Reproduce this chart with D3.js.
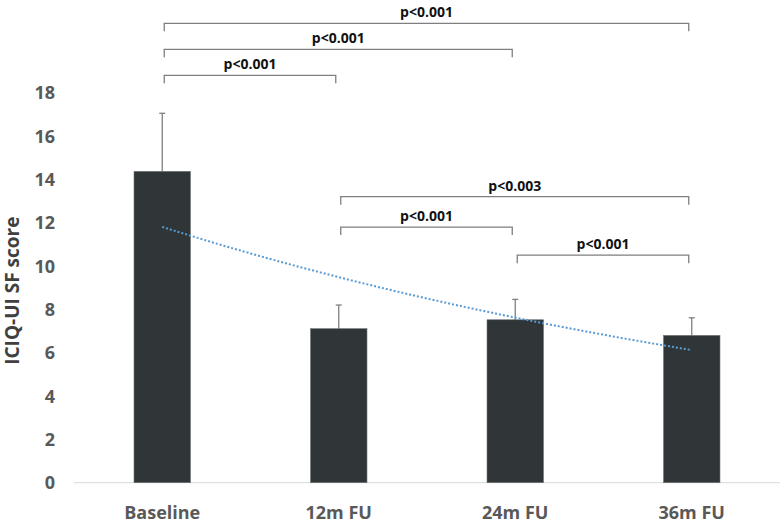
<!DOCTYPE html>
<html>
<head>
<meta charset="utf-8">
<script src="https://cdn.jsdelivr.net/npm/d3@7"></script>
<style>
  body { margin: 0; background: #fff; }
  svg text { font-family: "Open Sans", "Noto Sans", sans-serif; font-weight: bold; }
</style>
</head>
<body>
<svg class="score-chart" width="780" height="525"></svg>
<script>
const categories = ['Baseline', '12m FU', '24m FU', '36m FU']
const means = [14.37, 7.11, 7.52, 6.80]
const errTop = [17.05, 8.20, 8.46, 7.61]
const yTicks = [0, 2, 4, 6, 8, 10, 12, 14, 16, 18]

// significance brackets: from, to, label, level (in score units)
const brackets = [
  {'from': 0, 'to': 3, 'label': 'p<0.001', 'level': 21.2},
  {'from': 0, 'to': 2, 'label': 'p<0.001', 'level': 20.0},
  {'from': 0, 'to': 1, 'label': 'p<0.001', 'level': 18.8},
  {'from': 1, 'to': 3, 'label': 'p<0.003', 'level': 13.2},
  {'from': 1, 'to': 2, 'label': 'p<0.001', 'level': 11.8},
  {'from': 2, 'to': 3, 'label': 'p<0.001', 'level': 10.5},
]

const svg = d3.select('svg.score-chart')

const x = d3.scaleBand().domain(categories).range([74, 780]).paddingInner(0.68).paddingOuter(0.34)
const y = d3.scaleLinear().domain([0, 18]).range([482.7, 92.7])
const cx = (i) => x(categories[i]) + x.bandwidth() / 2

// x axis line
svg.append('line')
  .attr('x1', 74).attr('x2', 780)
  .attr('y1', y(0)).attr('y2', y(0))
  .attr('stroke', '#d9d9d9').attr('stroke-width', 1)

// y tick labels
svg.append('g').selectAll('text')
  .data(yTicks).enter().append('text')
  .attr('x', 55).attr('y', (d) => y(d))
  .attr('dy', '0.36em')
  .attr('text-anchor', 'end')
  .attr('font-size', 18)
  .attr('fill', '#595959')
  .text((d) => d)

// y axis title
svg.append('text')
  .attr('transform', `translate(19,${y(9) + 3}) rotate(-90)`)
  .attr('text-anchor', 'middle')
  .attr('font-size', 19)
  .attr('fill', '#404040')
  .text('ICIQ-UI SF score')

// x labels
svg.append('g').selectAll('text')
  .data(categories).enter().append('text')
  .attr('x', (d, i) => cx(i)).attr('y', 518.5)
  .attr('text-anchor', 'middle')
  .attr('font-size', 18)
  .attr('fill', '#595959')
  .text((d) => d)

// error bars (upper only)
const err = svg.append('g').attr('stroke', '#7f7f7f').attr('stroke-width', 1.3)
categories.forEach((c, i) => {
  err.append('line').attr('x1', cx(i)).attr('x2', cx(i)).attr('y1', y(means[i])).attr('y2', y(errTop[i]))
  err.append('line').attr('x1', cx(i) - 3).attr('x2', cx(i) + 3).attr('y1', y(errTop[i])).attr('y2', y(errTop[i]))
})

// bars
svg.append('g').selectAll('rect')
  .data(means).enter().append('rect')
  .attr('x', (d, i) => x(categories[i]))
  .attr('y', (d) => y(d))
  .attr('width', x.bandwidth())
  .attr('height', (d) => y(0) - y(d))
  .attr('fill', '#303638')
  .attr('stroke', '#6f7375')
  .attr('stroke-width', 0.6)

// exponential trendline fitted to the means (least squares on ln y)
const xs = means.map((d, i) => i + 1)
const lnY = means.map((d) => Math.log(d))
const mx = d3.mean(xs), my = d3.mean(lnY)
const slope = d3.sum(xs, (v, i) => (v - mx) * (lnY[i] - my)) / d3.sum(xs, (v) => (v - mx) * (v - mx))
const icpt = my - slope * mx
const trend = d3.range(1, 4.001, 0.05).map((t) => [t, Math.exp(icpt + slope * t)])
const xt = d3.scaleLinear().domain([1, 4]).range([cx(0), cx(3)])

svg.append('path')
  .datum(trend)
  .attr('d', d3.line().x((d) => xt(d[0])).y((d) => y(d[1])))
  .attr('fill', 'none')
  .attr('stroke', '#5b9bd5')
  .attr('stroke-width', 2)
  .attr('stroke-dasharray', '2,2')

// brackets
const br = svg.append('g')
brackets.forEach((b) => {
  const x1 = cx(b.from) + 2, x2 = cx(b.to) - 3, yy = y(b.level)
  br.append('path')
    .attr('d', `M${x1},${yy + 8}V${yy}H${x2}V${yy + 8}`)
    .attr('fill', 'none')
    .attr('stroke', '#7f7f7f')
    .attr('stroke-width', 1.3)
  br.append('text')
    .attr('x', (x1 + x2) / 2).attr('y', yy - 6)
    .attr('text-anchor', 'middle')
    .attr('font-size', 14)
    .attr('fill', '#111')
    .text(b.label)
})
</script>
</body>
</html>
